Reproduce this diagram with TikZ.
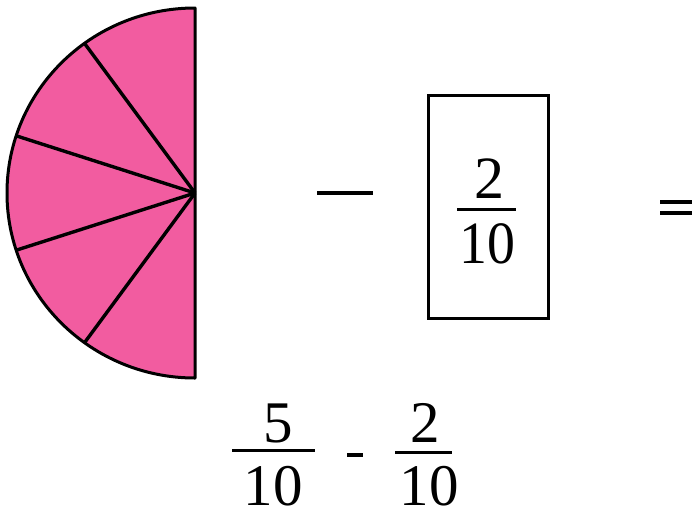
\documentclass[tikz,border=0pt]{standalone}
\usepackage{fontspec}
\usepackage{graphicx}
\setmainfont{Liberation Serif}
\definecolor{wedge}{RGB}{242,92,160}
\tikzset{
  sector/.style={draw=black, line width=3pt, line join=round},
  spoke/.style={draw=black, line width=3.4pt},
  bigdigit/.style={inner sep=0pt, anchor=base, font=\fontsize{60}{64}\selectfont},
  smalldigit/.style={inner sep=0pt, anchor=base, font=\fontsize{59}{62}\selectfont},
  fracbar/.style={line width=3pt},
  opline/.style={line width=3.2pt},
  framebox/.style={draw=black, line width=3pt}
}
\begin{document}
\begin{tikzpicture}[x=1pt,y=-1pt]
\useasboundingbox (0,0) rectangle (692,515);
% half disc
\coordinate (c) at (195,193);
\coordinate (p1) at (84.5,43.3);
\coordinate (p2) at (16.2,135.8);
\coordinate (p3) at (16.2,250.2);
\coordinate (p4) at (84.5,342.7);
\fill[wedge] (195,378) arc[start angle=90, end angle=270, x radius=188, y radius=185] -- cycle;
\foreach \p in {p1,p2,p3,p4} {
  \draw[spoke] (c) -- (\p);
}
\draw[sector] (195,378) arc[start angle=90, end angle=270, x radius=188, y radius=185] -- cycle;
% minus sign
\coordinate (m1) at (317,193);
\coordinate (m2) at (373,193);
\draw[opline] (m1) -- (m2);
% boxed fraction
\node[framebox, minimum width=120pt, minimum height=223pt, inner sep=0pt] (box) at (488,206.5) {};
\node[bigdigit] (bn) at (489,198) {2};
\node[bigdigit] (bd) at (487.5,263) {\scalebox{0.93}[1]{10}};
\coordinate (bb1) at (457,209);
\coordinate (bb2) at (516,209);
\draw[fracbar] (bb1) -- (bb2);
% equals
\coordinate (e1) at (660,202);
\coordinate (e2) at (692,202);
\coordinate (e3) at (660,213);
\coordinate (e4) at (692,213);
\draw[opline] (e1) -- (e2);
\draw[opline] (e3) -- (e4);
% bottom expression
\node[smalldigit] (n1) at (278,442) {5};
\node[smalldigit] (d1) at (273,505) {10};
\coordinate (f1a) at (232,450);
\coordinate (f1b) at (315,450);
\draw[fracbar] (f1a) -- (f1b);
\coordinate (h1) at (347,455);
\coordinate (h2) at (363,455);
\draw[line width=4pt] (h1) -- (h2);
\node[smalldigit] (n2) at (425,442) {2};
\node[smalldigit] (d2) at (429,505) {10};
\coordinate (f2a) at (395,452);
\coordinate (f2b) at (452,452);
\draw[fracbar] (f2a) -- (f2b);
\end{tikzpicture}
\end{document}
